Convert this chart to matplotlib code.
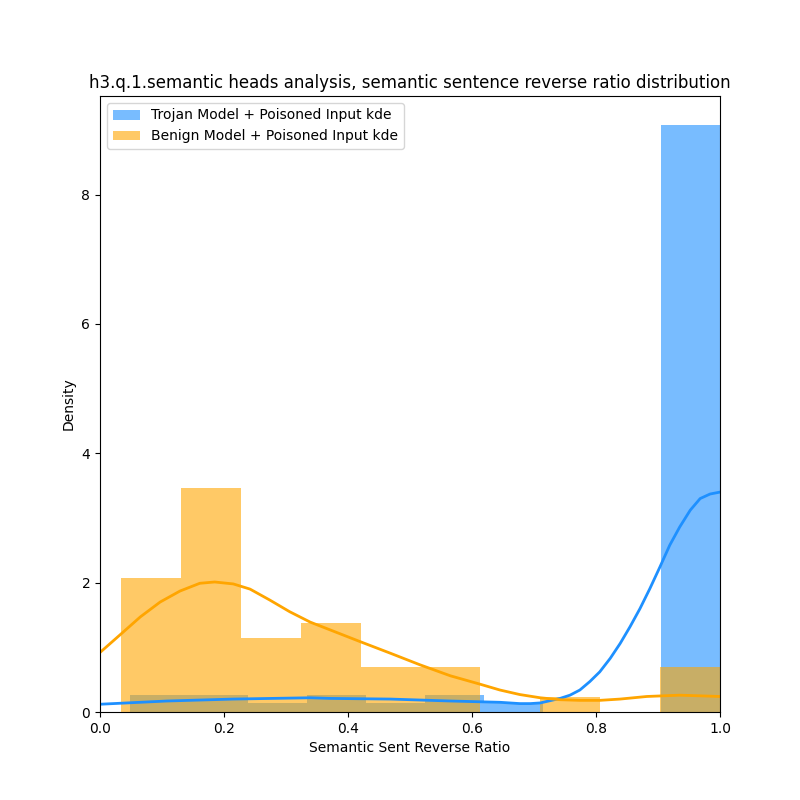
import numpy as np
import matplotlib
matplotlib.use("Agg")
import matplotlib.pyplot as plt

# histogram bins (density)
trojan_edges = np.linspace(0.048, 1.0, 11)
trojan_density = [0.27, 0.27, 0.135, 0.27, 0.135, 0.27, 0.135, 0, 0, 9.07]
benign_edges = np.linspace(0.034, 1.0, 11)
benign_density = [2.07, 3.46, 1.15, 1.38, 0.69, 0.69, 0, 0.23, 0, 0.69]

# kde curves
trojan_kde_x = [0, 0.108, 0.215, 0.339, 0.371, 0.468, 0.565, 0.645, 0.677, 0.694, 0.71,
                0.742, 0.758, 0.774, 0.790, 0.806, 0.823, 0.839, 0.855, 0.871, 0.887,
                0.903, 0.919, 0.935, 0.952, 0.968, 0.984, 1.0]
trojan_kde_y = [0.12, 0.17, 0.20, 0.22, 0.21, 0.20, 0.17, 0.15, 0.13, 0.13, 0.14,
                0.21, 0.26, 0.34, 0.47, 0.62, 0.83, 1.06, 1.32, 1.60, 1.91,
                2.24, 2.58, 2.86, 3.12, 3.30, 3.37, 3.40]
benign_kde_x = [0, 0.032, 0.065, 0.097, 0.129, 0.161, 0.185, 0.215, 0.242, 0.274, 0.306,
                0.339, 0.371, 0.419, 0.468, 0.516, 0.565, 0.613, 0.645, 0.677, 0.71,
                0.742, 0.774, 0.806, 0.839, 0.882, 0.935, 1.0]
benign_kde_y = [0.92, 1.19, 1.47, 1.70, 1.87, 1.99, 2.01, 1.98, 1.90, 1.73, 1.55,
                1.39, 1.27, 1.09, 0.91, 0.73, 0.56, 0.43, 0.34, 0.27, 0.22,
                0.19, 0.18, 0.18, 0.20, 0.24, 0.26, 0.24]

fig, ax = plt.subplots(figsize=(8, 8), dpi=100)

ax.bar(trojan_edges[:-1], trojan_density, width=np.diff(trojan_edges), align='edge',
       color='dodgerblue', alpha=0.6, linewidth=0, label='Trojan Model + Poisoned Input kde')
ax.plot(trojan_kde_x, trojan_kde_y, color='dodgerblue', lw=2)

ax.bar(benign_edges[:-1], benign_density, width=np.diff(benign_edges), align='edge',
       color='orange', alpha=0.6, linewidth=0, label='Benign Model + Poisoned Input kde')
ax.plot(benign_kde_x, benign_kde_y, color='orange', lw=2)

ax.set_xlim(0, 1)
ax.set_xlabel("Semantic Sent Reverse Ratio")
ax.set_ylabel("Density")
ax.set_title("h3.q.1.semantic heads analysis, semantic sentence reverse ratio distribution")
ax.legend(loc='upper left')

fig.savefig("out.png")
